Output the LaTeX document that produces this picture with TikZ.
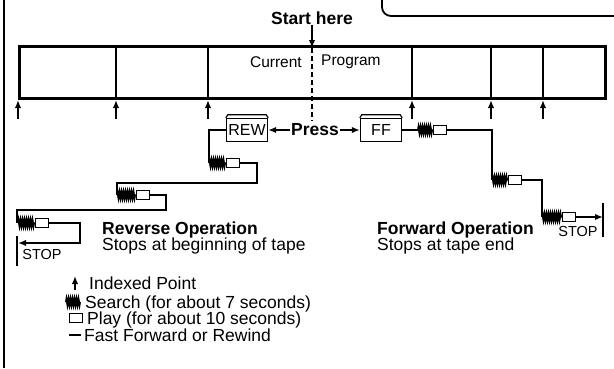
\documentclass[tikz,border=0pt]{standalone}
\usepackage{fontspec}
\setmainfont{Liberation Sans}
\usepackage{tikz}
\usetikzlibrary{arrows.meta,positioning,decorations.pathmorphing}

\begin{document}
\begin{tikzpicture}[x=1pt,y=1pt,>={Latex[length=8pt,width=6.5pt]},
  tape/.style={line width=2.6pt},
  wire/.style={line width=2pt},
  key/.style={draw,line width=1.4pt,minimum width=41pt,minimum height=23pt,
              inner sep=0pt,font=\fontsize{16}{16}\selectfont},
  play/.style={draw,line width=1.6pt,fill=white,minimum width=13pt,
               minimum height=9pt,inner sep=0pt},
  srch/.style={line width=2pt,decorate,
               decoration={zigzag,segment length=2pt,amplitude=2.8pt}},
  txt/.style={font=\fontsize{17.5}{16}\selectfont,inner sep=0pt},
  head/.style={txt,font=\fontsize{17.5}{16}\selectfont\bfseries},
  small/.style={font=\fontsize{15.5}{15}\selectfont,inner sep=0pt},
  stoplbl/.style={font=\fontsize{14.5}{14}\selectfont,inner sep=0pt}]
\useasboundingbox (0,0) rectangle (614,368);
% frame pieces
\draw[line width=1.3pt] (4,0) -- (4,368);
\draw[line width=1.8pt,rounded corners=9pt] (382,375) -- (382,352) -- (620,352);
% tape
\node[draw,tape,anchor=south west,minimum width=586pt,minimum height=52pt,
      inner sep=0pt] (strip) at (18,268) {};
\foreach \x in {116,208,412,491,543}
  \draw[tape] (\x,320) -- (\x,268);
\foreach \x in {18,116,208,412,491,543} {
  \coordinate (i\x) at (\x,249);
  \coordinate (t\x) at (\x,268);
  \draw[wire,->] (i\x) -- (t\x);
}
\node[small,anchor=east] (cur) at (302,306) {Current};
\node[small,anchor=west] (prog) at (321,306) {Program};
% start point
\node[head] (start) at (312,350) {Start here};
\coordinate (sh) at (312,320);
\coordinate (dend) at (312,247);
\draw[wire,->] (start.south) -- (sh);
\draw[wire,dash pattern=on 5pt off 3pt] (sh) -- (dend);
% keys
\node[txt,font=\fontsize{17.5}{16}\selectfont\bfseries,inner sep=1pt] (press) at (315,238) {Press};
\node[key] (rew) at (247,238) {REW};
\node[key] (ff) at (381,238) {FF};
\foreach \k in {rew,ff}
  \draw[line width=1.2pt] (\k.north west) -- ++(2,3)
    -- ([xshift=-2pt,yshift=3pt]\k.north east) -- (\k.north east);
\draw[wire,->] (press.west) -- (rew.east);
\draw[wire,->] (press.east) -- (ff.west);
% reverse operation
\coordinate (s1) at (209,205);
\node[play] (p1) at (233,205) {};
\coordinate (s2) at (117,173);
\node[play] (p2) at (143,173) {};
\coordinate (s3) at (17,145);
\node[play] (p3) at (42,145) {};
\coordinate (c1) at (257,185);
\coordinate (c2) at (166,158);
\coordinate (c3) at (80,125);
\coordinate (bl) at (18,125);
\coordinate (bl1) at (17,132);
\coordinate (bl2) at (17,102);
\draw[wire] (rew.west) -| (s1);
\draw[srch] (s1) -- (p1.west);
\draw[wire] (p1.east) -| (c1) -| (s2);
\draw[srch] (s2) -- (p2.west);
\draw[wire] (p2.east) -| (c2) -| (s3);
\draw[srch] ([xshift=1pt]s3) -- (p3.west);
\draw[wire,->] (p3.east) -| (c3) -- (bl);
\draw[tape] (bl1) -- (bl2);
\node[stoplbl] (stopl) at (42,113) {STOP};
% forward operation
\coordinate (s4) at (418,238);
\node[play] (p4) at (440,238) {};
\coordinate (s5) at (492,188);
\node[play] (p5) at (515,188) {};
\coordinate (s6) at (542,151);
\node[play] (p6) at (569,151) {};
\coordinate (br) at (603,151);
\coordinate (br1) at (603,165);
\coordinate (br2) at (603,131);
\draw[wire] (ff.east) -- (s4);
\draw[srch] (s4) -- (p4.west);
\draw[wire] (p4.east) -| (s5);
\draw[srch] (s5) -- (p5.west);
\draw[wire] (p5.east) -| (s6);
\draw[srch] (s6) -- (p6.west);
\draw[wire,->] (p6.east) -- (br);
\draw[tape] (br1) -- (br2);
\node[stoplbl] (stopr) at (578,136) {STOP};
% captions
\node[head,anchor=base west] (revh) at (102,134) {Reverse Operation};
\node[txt,anchor=base west] (revs) at (102,118) {Stops at beginning of tape};
\node[head,anchor=base west] (fwdh) at (377,134) {Forward Operation};
\node[txt,anchor=base west] (fwds) at (377,118) {Stops at tape end};
% legend
\coordinate (li1) at (75,78);
\coordinate (li2) at (75,92);
\draw[wire,->] (li1) -- (li2);
\node[txt,anchor=base west] (lidx) at (89,79) {Indexed Point};
\coordinate (ls) at (66,66);
\coordinate (ls2) at (80,66);
\draw[srch] (ls) -- (ls2);
\node[txt,anchor=base west] (lsrch) at (85,60) {Search (for about 7 seconds)};
\node[play] (lp) at (76,50) {};
\node[txt,anchor=base west] (lplay) at (87,44) {Play (for about 10 seconds)};
\coordinate (lf1) at (69,33);
\coordinate (lf2) at (81,33);
\draw[wire] (lf1) -- (lf2);
\node[txt,anchor=base west] (lfast) at (84,27) {Fast Forward or Rewind};
\end{tikzpicture}
\end{document}
